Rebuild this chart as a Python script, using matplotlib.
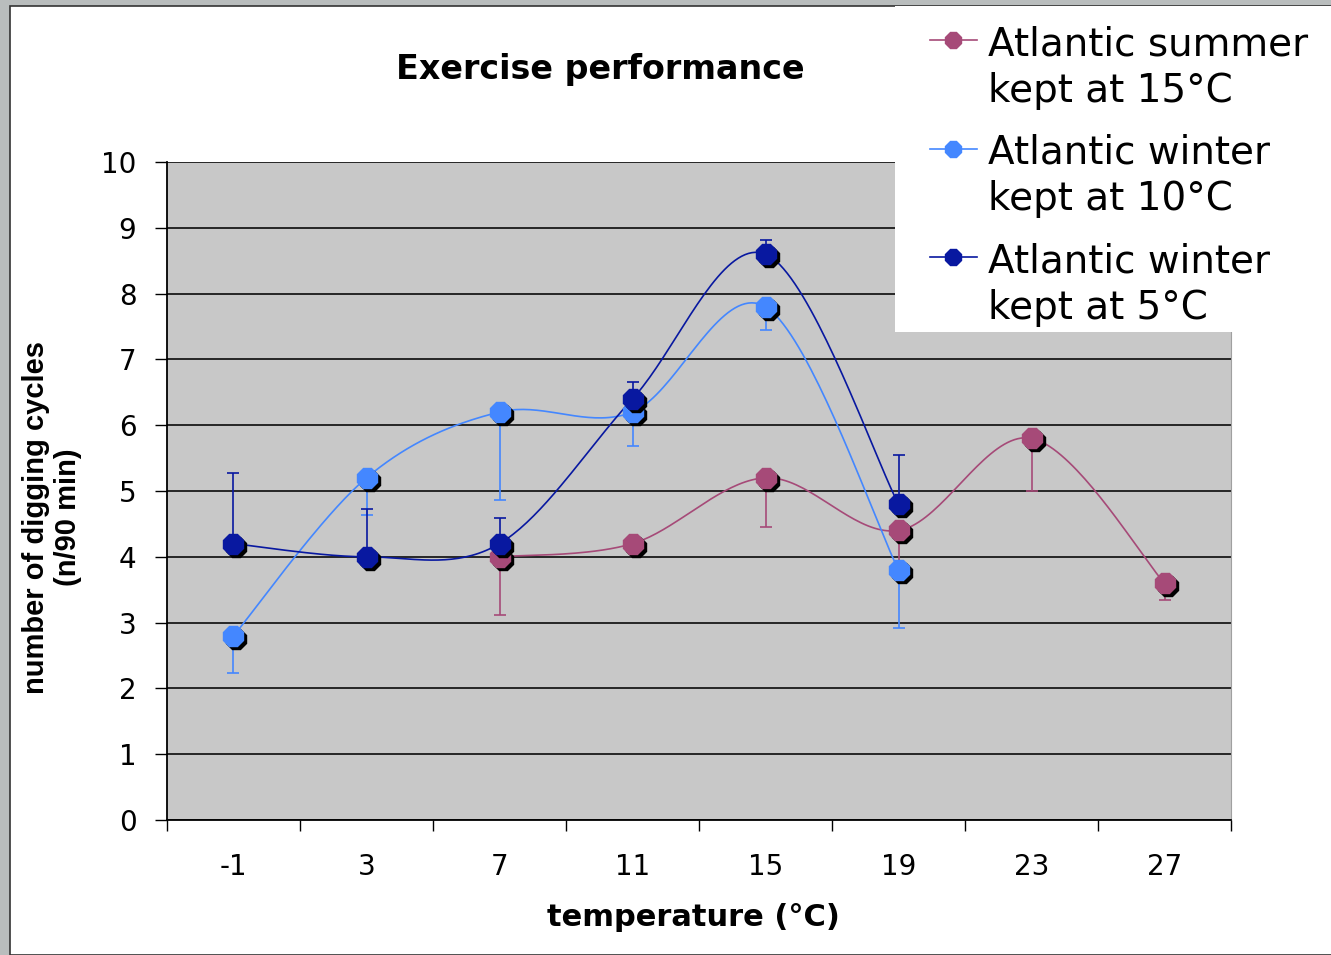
import matplotlib.pyplot as plt
import matplotlib.transforms as mtransforms
from matplotlib.lines import Line2D
from matplotlib.patches import Rectangle
import numpy as np

temps = ["-1", "3", "7", "11", "15", "19", "23", "27"]

# series: category index, mean, error (one-sided)
summer_idx = [2, 3, 4, 5, 6, 7]
summer_val = [4.0, 4.2, 5.2, 4.4, 5.8, 3.6]
summer_err = [0.88, 0.1, 0.75, 0.6, 0.8, 0.25]      # drawn downwards

w10_idx = [0, 1, 2, 3, 4, 5]
w10_val = [2.8, 5.2, 6.2, 6.2, 7.8, 3.8]
w10_err = [0.57, 0.57, 1.34, 0.52, 0.35, 0.88]      # drawn downwards

w5_idx = [0, 1, 2, 3, 4, 5]
w5_val = [4.2, 4.0, 4.2, 6.4, 8.6, 4.8]
w5_err = [1.07, 0.73, 0.39, 0.26, 0.21, 0.75]       # drawn upwards

labels = ["Atlantic summer\nkept at 15°C",
          "Atlantic winter\nkept at 10°C",
          "Atlantic winter\nkept at 5°C"]
colors = ["#A64A78", "#4487FF", "#0818A0"]


def smooth(xs, ys, n=40, yscale=0.495):
    # Catmull-Rom style curve, like Excel "smoothed line"
    p = np.column_stack([np.asarray(xs, float), np.asarray(ys, float) * yscale])
    p = np.vstack([p[0], p, p[-1]])
    out = []
    t = np.linspace(0, 1, n)[:, None]
    for i in range(1, len(p) - 2):
        p0, p1, p2, p3 = p[i - 1], p[i], p[i + 1], p[i + 2]
        c1 = p1 + (p2 - p0) / 6
        c2 = p2 - (p3 - p1) / 6
        seg = ((1 - t) ** 3) * p1 + 3 * ((1 - t) ** 2) * t * c1 + 3 * (1 - t) * t ** 2 * c2 + t ** 3 * p2
        out.append(seg)
    out = np.vstack(out)
    return out[:, 0], out[:, 1] / yscale


W, H = 1331, 955
fig = plt.figure(figsize=(W / 100, H / 100), dpi=100, facecolor="#b9bdbd")
fig.patches.append(Rectangle((10 / W, 0), 1, 1 - 6 / H, transform=fig.transFigure,
                             facecolor="white", edgecolor="#333333", lw=1.2, zorder=-1))
# white legend area, covers the top right of the plot
fig.patches.append(Rectangle((895 / W, 1 - 332 / H), 1, 332 / H - 6 / H,
                             transform=fig.transFigure, facecolor="white",
                             edgecolor="none", zorder=2))

ax = fig.add_axes([167 / W, 1 - 820 / H, (1231 - 167) / W, (820 - 162) / H])
ax.set_facecolor("#C8C8C8")
ax.set_xlim(-0.5, 7.5)
ax.set_ylim(0, 10)

ax.set_yticks(range(0, 11))
ax.yaxis.grid(True, color="#1a1a1a", lw=1.3)
ax.set_axisbelow(True)
ax.tick_params(axis="y", direction="out", length=9, width=1, pad=13, labelsize=20)

ax.set_xticks(np.arange(-0.5, 8, 1))
ax.set_xticklabels([])
ax.set_xticks(range(len(temps)), minor=True)
ax.set_xticklabels(temps, minor=True)
ax.tick_params(axis="x", which="major", direction="out", length=8, width=1)
ax.tick_params(axis="x", which="minor", length=0, pad=24, labelsize=20)

ax.spines["top"].set_visible(False)
ax.spines["right"].set_color("#a0a0a0")
ax.spines["left"].set_linewidth(1.3)
ax.spines["bottom"].set_linewidth(1.3)

shadow = mtransforms.offset_copy(ax.transData, fig=fig, x=3, y=-3, units="dots")

series = [
    (summer_idx, summer_val, summer_err, "down"),
    (w10_idx, w10_val, w10_err, "down"),
    (w5_idx, w5_val, w5_err, "up"),
]

for k, (xi, yv, ye, side) in enumerate(series):
    c = colors[k]
    sx, sy = smooth(xi, yv)
    ax.plot(sx, sy, color=c, lw=1.2, zorder=3)
    ye = np.array(ye)
    if side == "down":
        yerr = [ye, np.zeros_like(ye)]
    else:
        yerr = [np.zeros_like(ye), ye]
    ax.errorbar(xi, yv, yerr=yerr, fmt="none", ecolor=c, elinewidth=1.2,
                capsize=4.5, capthick=1.2, zorder=2)

for k, (xi, yv, ye, side) in enumerate(series):
    ax.plot(xi, yv, ls="none", marker="8", ms=15, color="black", mec="black",
            transform=shadow, zorder=4 + k)
    ax.plot(xi, yv, ls="none", marker="8", ms=15, color=colors[k], mec=colors[k],
            zorder=4 + k + 0.5)

fig.text(600 / W, 1 - 70 / H, "Exercise performance", ha="center", va="center",
         fontsize=24, fontweight="bold")
fig.text(693 / W, 1 - 917 / H, "temperature (°C)", ha="center", va="center",
         fontsize=22, fontweight="bold")
fig.text(52 / W, 1 - 517 / H, "number of digging cycles\n(n/90 min)", ha="center",
         va="center", rotation=90, fontsize=21, fontweight="bold",
         family=["Liberation Sans Narrow", "Liberation Sans"], linespacing=1.15)

# legend, Excel style: the key sits next to the first text line
for i, (lab, c) in enumerate(zip(labels, colors)):
    y0 = 40 + 108.5 * i
    fig.add_artist(Line2D([930 / W, 977 / W], [1 - y0 / H] * 2, color=c, lw=1.2,
                          transform=fig.transFigure, zorder=5))
    fig.add_artist(Line2D([953 / W], [1 - y0 / H], color=c, ls="none", marker="8",
                          ms=13, mec=c, transform=fig.transFigure, zorder=5))
    for j, line in enumerate(lab.split("\n")):
        fig.text(988 / W, 1 - (y0 + 47 * j) / H, line, ha="left", va="center_baseline",
                 fontsize=28, zorder=5)

fig.savefig("out.png", dpi=100, facecolor=fig.get_facecolor())
